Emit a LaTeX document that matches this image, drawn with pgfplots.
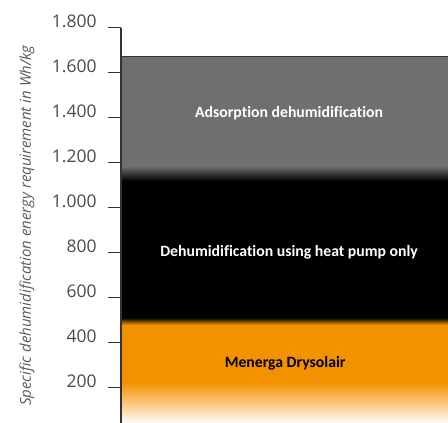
\documentclass[border=0pt]{standalone}
\usepackage{pgfplots}
\pgfplotsset{compat=1.18}
\usepackage{fontspec}
\setmainfont{Open Sans}
\newfontfamily\labfont{Carlito Bold}[Ligatures=NoCommon]
\definecolor{bandorange}{HTML}{F39200}
\definecolor{bandgray}{HTML}{6F6F70}
\definecolor{axisgray}{HTML}{333333}
\definecolor{ticktext}{HTML}{4A4A4A}
\definecolor{labgray}{HTML}{5A5A5A}
\begin{document}
\begin{tikzpicture}
\begin{axis}[
  scale only axis,
  width=327bp, height=395bp,
  xmin=0, xmax=1, ymin=44, ymax=1800,
  axis x line=none,
  axis y line*=left,
  axis line style={axisgray, line width=1.1pt, -},
  ytick={200,400,...,1800},
  tick align=outside,
  major tick length=13bp,
  tick style={axisgray, line width=1pt},
  /pgf/number format/.cd, 1000 sep={.}, assume math mode=true,
  /pgfplots/.cd,
  yticklabel style={font=\fontsize{17.5}{20}\selectfont, text=ticktext, anchor=base east, xshift=-8bp},
  axis on top,
  clip=true,
]
% orange band: fade from white, solid, fade into black
\addplot[draw=none, bottom color=white!97!bandorange, top color=bandorange] coordinates {(0,44) (1,44) (1,225) (0,225)};
\addplot[draw=none, fill=bandorange] coordinates {(0,224) (1,224) (1,481) (0,481)};
\addplot[draw=none, bottom color=bandorange, top color=black] coordinates {(0,480) (1,480) (1,512) (0,512)};
% black band
\addplot[draw=none, fill=black] coordinates {(0,511) (1,511) (1,1121) (0,1121)};
\addplot[draw=none, bottom color=black, top color=bandgray] coordinates {(0,1120) (1,1120) (1,1186) (0,1186)};
% gray band
\addplot[draw=none, fill=bandgray] coordinates {(0,1185) (1,1185) (1,1675) (0,1675)};
\addplot[axisgray, line width=1pt] coordinates {(0,1675) (1,1675)};
% labels
\node[text=white, font=\labfont\fontsize{15.8}{18}\selectfont] at (axis cs:0.514,1422) {Adsorption dehumidification};
\node[text=white, font=\labfont\fontsize{15.8}{18}\selectfont] at (axis cs:0.514,804) {Dehumidification using heat pump only};
\node[text=black, font=\labfont\fontsize{15.8}{18}\selectfont] at (axis cs:0.502,311) {Menerga Drysolair};
\end{axis}
\node[rotate=90, text=labgray, font=\itshape\fontsize{15}{17}\selectfont] at ([xshift=-94bp]current axis.west) {Specific dehumidification energy requirement in Wh/kg};
\pgfresetboundingbox
\path[use as bounding box] ([xshift=-121bp]current axis.south west) rectangle ([yshift=28bp]current axis.north east);
\end{tikzpicture}
\end{document}
